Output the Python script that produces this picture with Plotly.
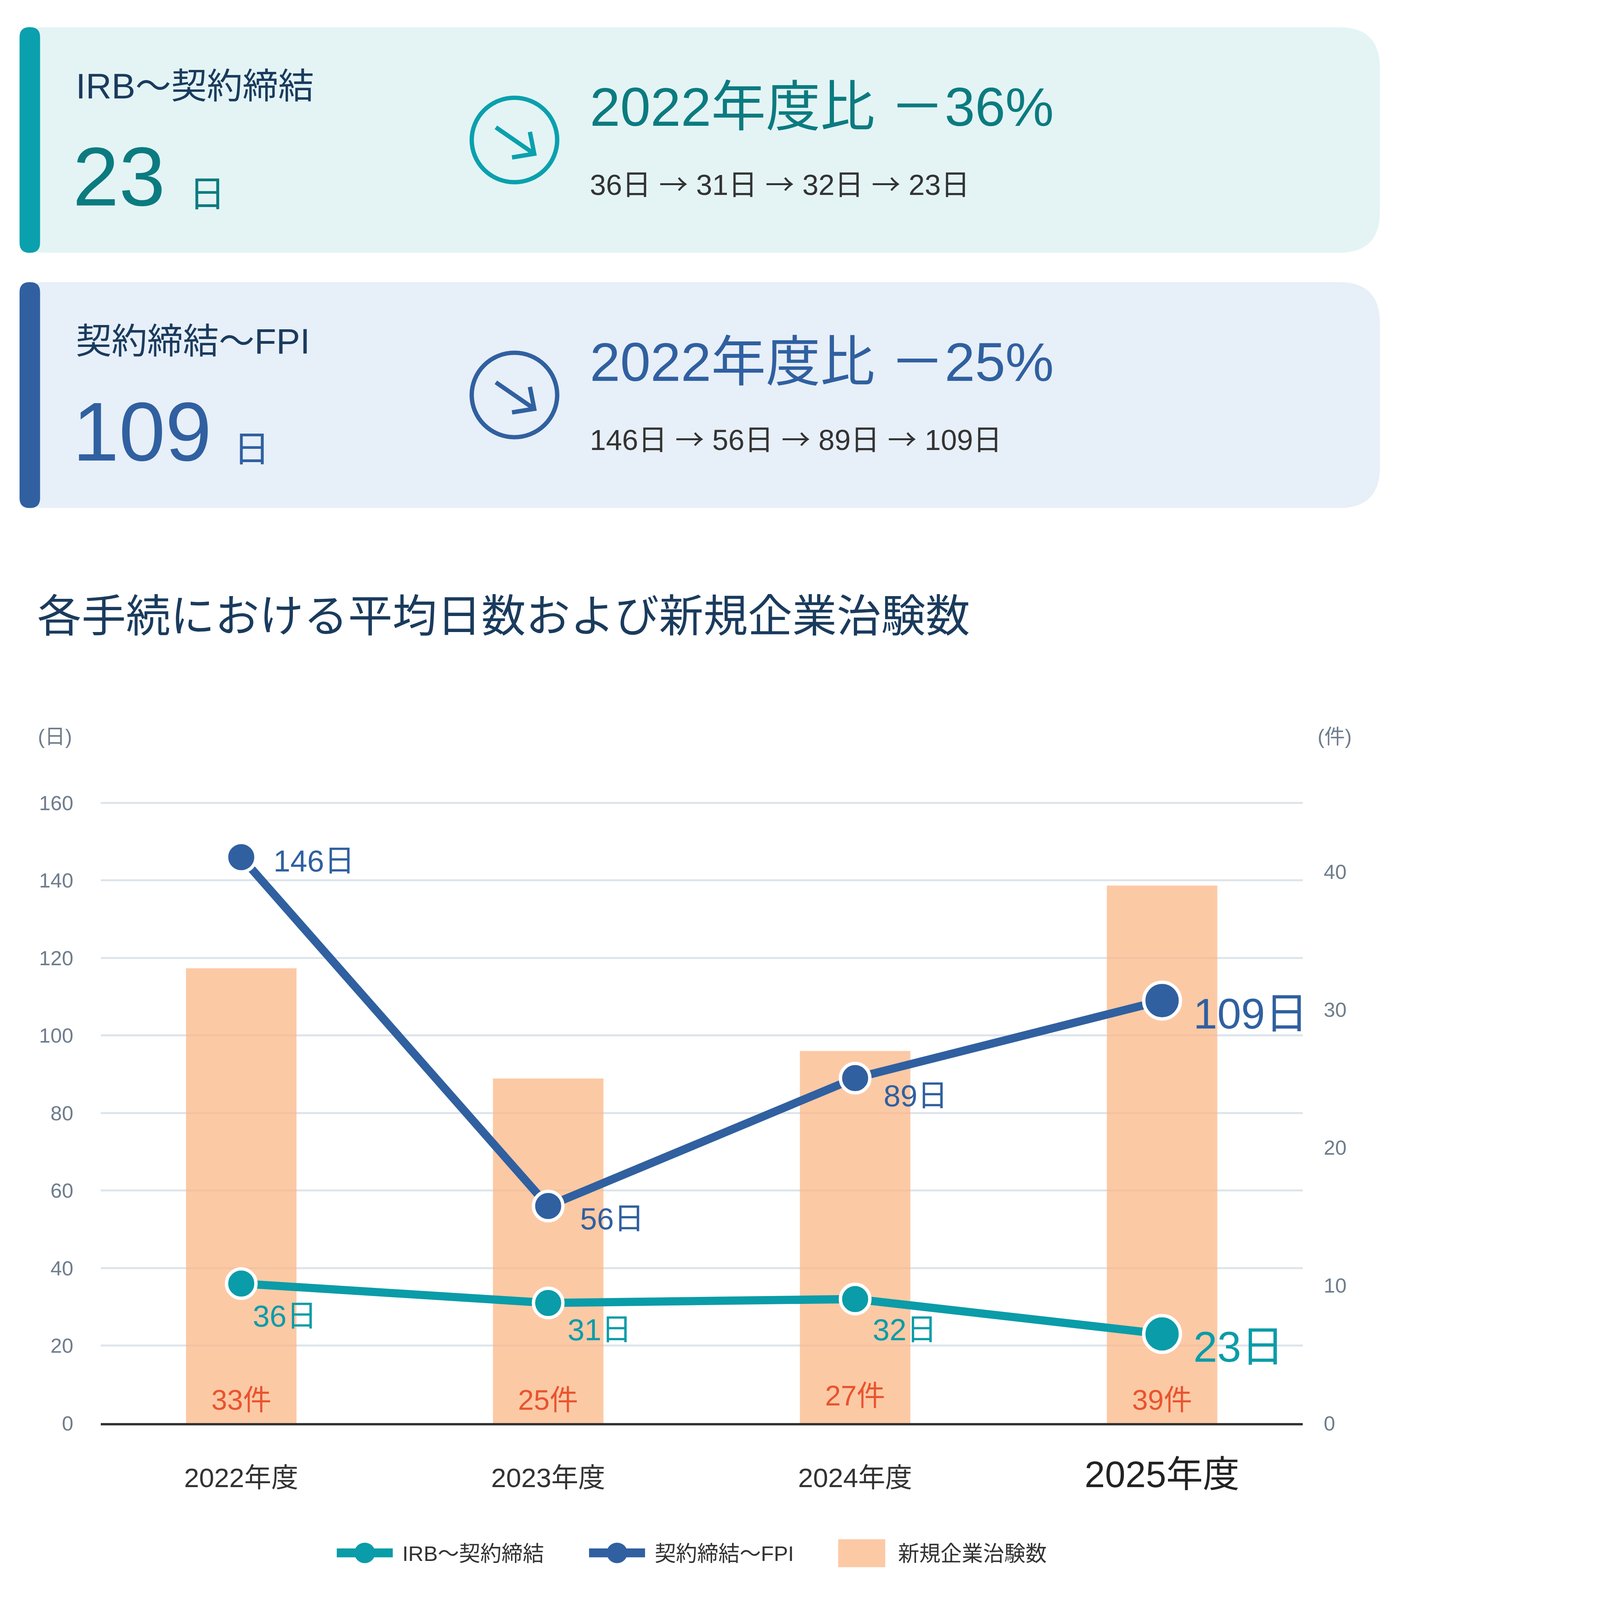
import plotly.graph_objects as go

# Data.
years = ['2022年度', '2023年度', '2024年度', '2025年度']
irb_days = [36, 31, 32, 23]
fpi_days = [146, 56, 89, 109]
new_trials = [33, 25, 27, 39]
irb_sequence = ['36日', '31日', '32日', '23日']
fpi_sequence = ['146日', '56日', '89日', '109日']
irb_change = '2022年度比 －36%'
fpi_change = '2022年度比 －25%'
day_ticks = [0, 20, 40, 60, 80, 100, 120, 140, 160]
count_ticks = [0, 10, 20, 30, 40]

# Settings.
# - Layout is measured in reference pixels (W x H) and scaled by K so the whole
#   figure fits into the 4096 px browser viewport.
W, H = 5775, 6627
K = 4096 / H
FONT = "Arial, 'Liberation Sans', 'Noto Sans CJK JP', sans-serif"
TEAL = '#0a9ca8'
BLUE = '#3060a0'
NAVY = '#1a3b5d'
GREY = '#6f7d8c'
BAR = 'rgba(251,183,135,0.75)'
ORANGE = '#e8542e'

# Plot area in reference pixels: 0 days at y=5933, 160 days at y=3333.
# - The ranges run a little past the top tick so its grid line is kept.
plot_bottom, px_per_day = 5933, (5933 - 3333) / 160
days_max = 161
counts_max = 45 * days_max / 160
plot_top = plot_bottom - days_max * px_per_day

# Label offsets in reference pixels (right, down) from each point.
fpi_offsets = [(130, 17), (129, 53), (115, 74), (127, 53)]
irb_offsets = [(45, 136), (77, 111), (69, 128), (127, 53)]
bar_label_lift = [97, 97, 115, 97]
marker_sizes = [122, 122, 122, 152]


def s(v):
    return v * K


def fx(x):
    return x / W


def fy(y):
    return 1 - y / H


def rounded_rect(x0, y0, x1, y1, rl, rr):
    return (
        f'M{fx(x0 + rl)},{fy(y0)} L{fx(x1 - rr)},{fy(y0)} Q{fx(x1)},{fy(y0)} {fx(x1)},{fy(y0 + rr)} '
        f'L{fx(x1)},{fy(y1 - rr)} Q{fx(x1)},{fy(y1)} {fx(x1 - rr)},{fy(y1)} '
        f'L{fx(x0 + rl)},{fy(y1)} Q{fx(x0)},{fy(y1)} {fx(x0)},{fy(y1 - rl)} '
        f'L{fx(x0)},{fy(y0 + rl)} Q{fx(x0)},{fy(y0)} {fx(x0 + rl)},{fy(y0)} Z'
    )


def text(x, y, t, size, color, xanchor='left', yanchor='middle'):
    return dict(
        x=fx(x), y=fy(y), xref='paper', yref='paper', text=t, showarrow=False,
        xanchor=xanchor, yanchor=yanchor, font=dict(family=FONT, size=s(size), color=color)
    )


ARROW = " <span style='font-family:Noto Sans CJK JP'>→</span> "

shapes = []
annotations = []

# Summary cards.
cards = [
    dict(top=81, bottom=1027, bg='#e4f4f5', accent='#0aa0ad', big='#0b7b80', label='IRB〜契約締結',
         value=str(irb_days[-1]), change=irb_change, seq=ARROW.join(irb_sequence)),
    dict(top=1150, bottom=2097, bg='#e7eff8', accent=BLUE, big=BLUE, label='契約締結〜FPI',
         value=str(fpi_days[-1]), change=fpi_change, seq=ARROW.join(fpi_sequence)),
]
for card in cards:
    t = card['top']
    shapes.append(dict(type='path', path=rounded_rect(120, t, 5716, card['bottom'], 60, 170),
                       xref='paper', yref='paper', fillcolor=card['bg'], line=dict(width=0), layer='below'))
    shapes.append(dict(type='path', path=rounded_rect(81, t, 166, card['bottom'], 42, 42),
                       xref='paper', yref='paper', fillcolor=card['accent'], line=dict(width=0), layer='below'))
    # Icon.
    cx, cy, r = 2131, t + 473, 177
    shapes.append(dict(type='circle', xref='paper', yref='paper',
                       x0=fx(cx - r), x1=fx(cx + r), y0=fy(cy + r), y1=fy(cy - r),
                       line=dict(color=card['accent'], width=s(18))))
    shapes.append(dict(type='path', xref='paper', yref='paper',
                       path=f'M{fx(cx - 77)},{fy(cy - 53)} L{fx(cx + 79)},{fy(cy + 56)}',
                       line=dict(color=card['accent'], width=s(18))))
    shapes.append(dict(type='path', xref='paper', yref='paper',
                       path=f'M{fx(cx + 64)},{fy(cy - 34)} L{fx(cx + 82)},{fy(cy + 58)} L{fx(cx - 10)},{fy(cy + 73)}',
                       line=dict(color=card['accent'], width=s(18))))
    annotations.append(text(310, t + 247, card['label'], 148, NAVY))
    annotations.append(text(298, t + 627, card['value'], 345, card['big']))
    unit_x = 780 if len(card['value']) == 2 else 964
    annotations.append(text(unit_x, t + 700, '日', 150, card['big']))
    annotations.append(text(2440, t + 335, card['change'], 226, card['big']))
    annotations.append(text(2440, t + 650, card['seq'], 120, '#333333'))

# Chart title and axis units.
annotations.append(text(150, 2550, '各手続における平均日数および新規企業治験数', 184, NAVY))
annotations.append(text(302, 3055, '(日)', 85, GREY, xanchor='right'))
annotations.append(text(5454, 3055, '(件)', 85, GREY))

# Legend (drawn by hand to keep symbol sizes).
legend_y = 6477
for x0, color, label in [(1395, TEAL, 'IRB〜契約締結'), (2440, BLUE, '契約締結〜FPI')]:
    shapes.append(dict(type='line', xref='paper', yref='paper', x0=fx(x0), x1=fx(x0 + 232),
                       y0=fy(legend_y), y1=fy(legend_y), line=dict(color=color, width=s(37))))
    shapes.append(dict(type='circle', xref='paper', yref='paper', fillcolor=color, line=dict(width=0),
                       x0=fx(x0 + 116 - 43), x1=fx(x0 + 116 + 43), y0=fy(legend_y + 43), y1=fy(legend_y - 43)))
    annotations.append(text(x0 + 268, legend_y + 3, label, 88, '#333333'))
shapes.append(dict(type='rect', xref='paper', yref='paper', fillcolor=BAR, line=dict(width=0),
                   x0=fx(3472), x1=fx(3667), y0=fy(6537), y1=fy(6420)))
annotations.append(text(3717, legend_y + 3, '新規企業治験数', 88, '#333333'))

# Point labels.
for i, year in enumerate(years):
    last = i == len(years) - 1
    size = s(178 if last else 126)
    dx, dy = fpi_offsets[i]
    annotations.append(dict(x=year, y=fpi_days[i], xref='x', yref='y2', text=f'{fpi_days[i]}日',
                            showarrow=False, xanchor='left', yanchor='middle', xshift=s(dx), yshift=-s(dy),
                            font=dict(family=FONT, size=size, color=BLUE)))
    dx, dy = irb_offsets[i]
    annotations.append(dict(x=year, y=irb_days[i], xref='x', yref='y2', text=f'{irb_days[i]}日',
                            showarrow=False, xanchor='left', yanchor='middle', xshift=s(dx), yshift=-s(dy),
                            font=dict(family=FONT, size=size, color=TEAL)))
    annotations.append(dict(x=year, y=0, xref='x', yref='y', text=f'{new_trials[i]}件',
                            showarrow=False, xanchor='center', yanchor='middle', yshift=s(bar_label_lift[i]),
                            font=dict(family=FONT, size=s(118), color=ORANGE)))

tick_text = years[:-1] + [f"<span style='font-size:{s(152):.1f}px;color:#222222'>{years[-1]}</span>"]

# Create plot.
figure = go.Figure()
figure.add_trace(go.Bar(
    x=years, y=new_trials, yaxis='y', width=0.36,
    marker=dict(color=BAR, line=dict(width=0)), name='新規企業治験数', showlegend=False
))
for values, color, name in [(irb_days, TEAL, 'IRB〜契約締結'), (fpi_days, BLUE, '契約締結〜FPI')]:
    figure.add_trace(go.Scatter(
        x=years, y=values, yaxis='y2', mode='lines+markers', name=name, showlegend=False,
        line=dict(color=color, width=s(34)),
        marker=dict(size=[s(m) for m in marker_sizes], color=color, opacity=1,
                    line=dict(color='white', width=s(14))),
        cliponaxis=False
    ))
figure.update(layout=go.Layout(
    width=round(W * K), height=round(H * K),
    margin=dict(l=0, r=0, t=0, b=0),
    paper_bgcolor='white', plot_bgcolor='rgba(0,0,0,0)',
    showlegend=False,
    font=dict(family=FONT, color='#333333'),
    xaxis=dict(
        domain=[fx(417), fx(5396)], range=[-0.458, 3.458], type='category',
        tickmode='array', tickvals=years, ticktext=tick_text,
        showgrid=False, zeroline=False, showline=True, linecolor='#333333', linewidth=s(10),
        ticks='', ticklabelstandoff=round(s(122)), tickfont=dict(family=FONT, size=s(112), color='#333333')
    ),
    yaxis=dict(
        domain=[fy(plot_bottom), fy(plot_top)], range=[0, counts_max], side='right', anchor='x',
        tickmode='array', tickvals=count_ticks, showgrid=False, zeroline=False,
        ticks='', ticklabelstandoff=round(s(85)), tickfont=dict(family=FONT, size=s(85), color=GREY)
    ),
    yaxis2=dict(
        overlaying='y', side='left', range=[0, days_max], anchor='x',
        tickmode='array', tickvals=day_ticks, showgrid=True, gridcolor='#dde4eb', gridwidth=s(8),
        zeroline=False, ticks='', ticklabelstandoff=round(s(112)),
        tickfont=dict(family=FONT, size=s(85), color=GREY)
    ),
    shapes=shapes,
    annotations=annotations
))
figure.write_html('out.html', config={'displayModeBar': False},
                  post_script="document.body.style.margin='0';")
